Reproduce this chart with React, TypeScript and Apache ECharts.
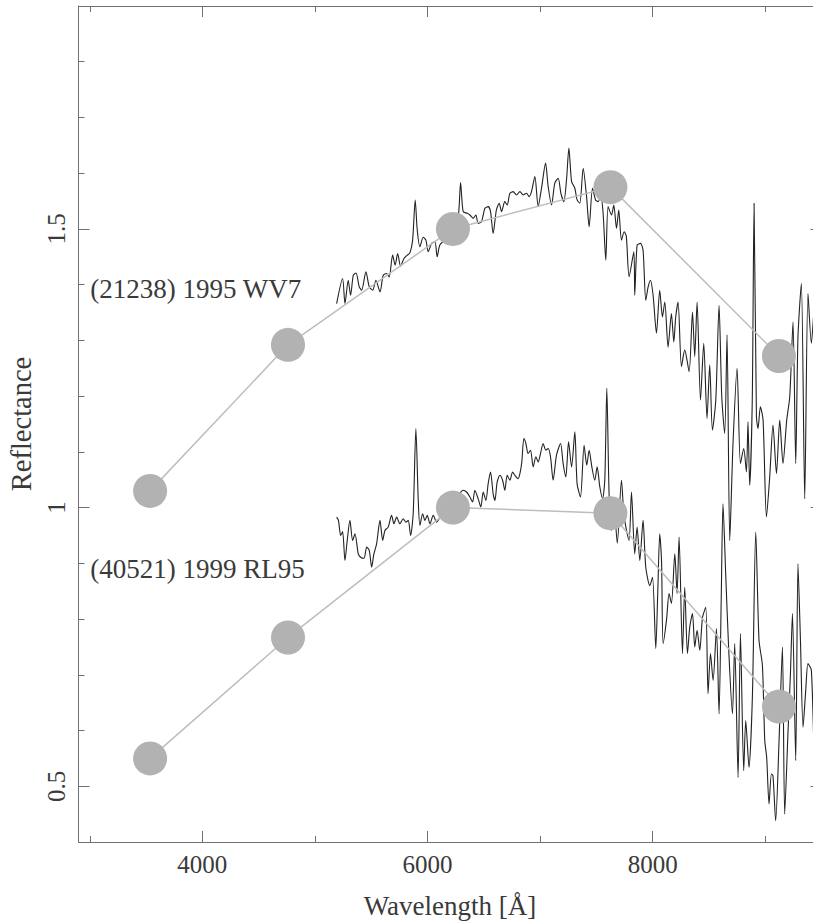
import React, { useEffect, useRef } from "react";
import * as echarts from "echarts";

const FONT = "'Liberation Serif', 'DejaVu Serif', serif";

// Photometric (filter) points
const filterWave = [3536, 4761, 6226, 7625, 9122];
const upperPhot = [1.03, 1.292, 1.5, 1.575, 1.272];
const lowerPhot = [0.55, 0.767, 1.0, 0.99, 0.643];

// Spectrum of (21238) 1995 WV7
const upperWave = [5193,5246,5267,5296,5317,5341,5365,5394,5415,5453,5483,5513,5542,5578,5607,5637,5660,5690,5713,5735,5761,5791,5820,5844,5868,5891,5909,5933,5962,5986,6006,6037,6066,6086,6110,6172,6235,6275,6294,6317,6353,6377,6406,6430,6450,6480,6510,6539,6560,6583,6612,6637,6658,6687,6708,6732,6761,6791,6821,6850,6880,6903,6924,6954,6983,7013,7049,7072,7102,7131,7161,7185,7211,7235,7256,7280,7309,7329,7353,7383,7413,7436,7466,7493,7516,7540,7560,7584,7604,7635,7655,7679,7699,7723,7747,7766,7791,7833,7841,7862,7892,7915,7939,7960,7981,8004,8034,8063,8087,8108,8137,8167,8188,8205,8226,8256,8285,8324,8354,8374,8395,8425,8454,8483,8507,8531,8561,8590,8614,8640,8661,8685,8714,8750,8780,8809,8833,8847,8862,8885,8901,8922,8936,8957,8981,9011,9040,9069,9100,9129,9158,9191,9218,9247,9271,9291,9321,9351,9380,9410,9440,9467];
const upperRefl = [1.366,1.411,1.366,1.408,1.381,1.417,1.421,1.396,1.390,1.423,1.396,1.390,1.408,1.387,1.417,1.420,1.414,1.453,1.435,1.456,1.433,1.447,1.453,1.457,1.480,1.552,1.498,1.468,1.485,1.480,1.459,1.474,1.477,1.450,1.471,1.484,1.498,1.525,1.583,1.531,1.528,1.525,1.519,1.525,1.510,1.513,1.537,1.540,1.531,1.492,1.534,1.546,1.531,1.549,1.543,1.564,1.567,1.561,1.567,1.561,1.564,1.558,1.567,1.594,1.540,1.573,1.618,1.576,1.543,1.582,1.591,1.564,1.549,1.588,1.645,1.585,1.573,1.552,1.546,1.609,1.558,1.504,1.573,1.552,1.549,1.559,1.528,1.444,1.540,1.525,1.543,1.501,1.534,1.480,1.495,1.487,1.414,1.459,1.381,1.471,1.474,1.462,1.372,1.396,1.408,1.381,1.313,1.390,1.342,1.369,1.288,1.348,1.297,1.342,1.369,1.253,1.283,1.244,1.351,1.271,1.369,1.193,1.295,1.160,1.256,1.139,1.193,1.363,1.199,1.133,1.310,0.941,1.115,1.250,1.079,1.106,1.064,1.154,1.040,1.193,1.546,1.163,1.142,1.181,1.157,0.983,1.055,1.148,1.061,1.157,1.079,1.157,1.199,1.333,1.079,1.306,1.402,1.016,1.384,1.295,1.372,1.157];

// Spectrum of (40521) 1999 RL95
const lowerWave = [5193,5209,5229,5246,5267,5287,5311,5335,5356,5385,5406,5436,5460,5483,5504,5524,5548,5578,5602,5622,5651,5681,5702,5726,5755,5784,5808,5829,5850,5873,5897,5918,5933,5957,5977,5998,6022,6051,6081,6137,6199,6261,6317,6347,6377,6401,6421,6450,6474,6495,6519,6539,6560,6583,6599,6619,6643,6667,6687,6708,6732,6756,6776,6805,6821,6838,6856,6874,6894,6915,6939,6963,6983,7004,7027,7051,7072,7093,7116,7146,7182,7205,7229,7253,7280,7309,7329,7359,7391,7415,7436,7460,7486,7507,7531,7555,7575,7593,7613,7633,7655,7686,7723,7744,7768,7791,7812,7841,7862,7886,7915,7939,7975,7999,8028,8046,8063,8079,8093,8123,8146,8167,8197,8217,8235,8265,8285,8309,8330,8354,8374,8395,8419,8443,8472,8492,8514,8537,8567,8590,8609,8625,8649,8676,8709,8729,8759,8780,8809,8827,8856,8886,8916,8945,8975,8996,9013,9034,9055,9069,9093,9123,9153,9173,9203,9224,9242,9271,9291,9313,9336,9360,9380,9410,9440,9467];
const lowerRefl = [0.983,0.977,0.950,0.957,0.905,0.941,0.977,0.941,0.953,0.917,0.911,0.909,0.929,0.923,0.893,0.917,0.935,0.977,0.941,0.959,0.965,0.986,0.971,0.983,0.971,0.980,0.974,0.977,0.950,0.989,1.142,1.013,0.968,0.989,0.977,0.986,0.971,0.986,0.974,0.992,1.004,1.019,1.031,1.028,1.019,1.010,1.031,1.016,1.001,1.028,1.013,1.043,1.064,1.025,1.013,1.046,1.058,1.049,1.031,1.058,1.049,1.064,1.058,1.052,1.061,1.082,1.124,1.115,1.097,1.103,1.073,1.091,1.082,1.097,1.115,1.103,1.106,1.091,1.049,1.094,1.115,1.079,1.055,1.118,1.073,1.136,1.043,1.019,1.112,1.076,1.103,1.073,1.049,1.073,1.037,1.016,1.049,1.214,1.025,0.959,1.013,0.936,1.049,0.989,0.959,0.941,1.028,0.917,0.965,0.905,0.977,0.893,0.860,0.875,0.747,0.851,0.953,0.905,0.756,0.798,0.846,0.828,0.917,0.846,0.947,0.738,0.857,0.738,0.786,0.810,0.750,0.780,0.744,0.803,0.821,0.666,0.738,0.690,0.783,0.630,0.833,1.007,0.881,0.744,0.630,0.756,0.516,0.774,0.528,0.618,0.534,0.660,0.956,0.762,0.717,0.582,0.552,0.468,0.522,0.519,0.438,0.582,0.750,0.450,0.600,0.702,0.810,0.546,0.899,0.762,0.606,0.672,0.720,0.708,0.546,0.654];

// Object labels
const objectNames = ["(21238) 1995 WV7", "(40521) 1999 RL95"];
const labelWave = [3000, 3000];
const labelRefl = [1.392, 0.89];

// Axes
const xMin = 2900;
const xMax = 9500;
const yMin = 0.4;
const yMax = 1.9;
const xMajor = [4000, 6000, 8000];
const xMinor = [3000, 5000, 7000, 9000];
const yMajor = [0.5, 1, 1.5];
const yMinor = [0.6, 0.7, 0.8, 0.9, 1.1, 1.2, 1.3, 1.4, 1.6, 1.7, 1.8];

const AXIS_COLOR = "#707070";
const TEXT_COLOR = "#3a3a3a";

function zip(a: number[], b: number[]) {
  return a.map((v, i) => [v, b[i]]);
}

function xAxisDef(position: string, ticks: number[], len: number, main: boolean) {
  return {
    type: "value",
    position,
    min: xMin,
    max: xMax,
    axisLine: { show: main, lineStyle: { color: AXIS_COLOR, width: 1 } },
    axisTick: {
      show: true,
      inside: true,
      length: len,
      customValues: ticks,
      lineStyle: { color: AXIS_COLOR, width: 1 },
    },
    axisLabel: {
      show: main && position === "bottom",
      customValues: xMajor,
      formatter: (v: number) => String(v),
      fontFamily: FONT,
      fontSize: 25,
      color: TEXT_COLOR,
      margin: 10,
    },
    splitLine: { show: false },
    name: main && position === "bottom" ? "Wavelength [Å]" : "",
    nameLocation: "middle",
    nameGap: 50,
    nameTextStyle: { fontFamily: FONT, fontSize: 27, color: TEXT_COLOR },
  };
}

function yAxisDef(position: string, ticks: number[], len: number, main: boolean) {
  return {
    type: "value",
    position,
    min: yMin,
    max: yMax,
    axisLine: { show: main, lineStyle: { color: AXIS_COLOR, width: 1 } },
    axisTick: {
      show: true,
      inside: true,
      length: len,
      customValues: ticks,
      lineStyle: { color: AXIS_COLOR, width: 1 },
    },
    axisLabel: {
      show: main && position === "left",
      customValues: yMajor,
      formatter: (v: number) => String(v),
      rotate: 90,
      fontFamily: FONT,
      fontSize: 25,
      color: TEXT_COLOR,
      margin: 10,
    },
    splitLine: { show: false },
    name: main && position === "left" ? "Reflectance" : "",
    nameLocation: "middle",
    nameGap: 41,
    nameTextStyle: { fontFamily: FONT, fontSize: 28.5, color: TEXT_COLOR },
  };
}

export default function App() {
  const ref = useRef<HTMLDivElement>(null);
  useEffect(() => {
    const chart = echarts.init(ref.current!, null, { renderer: "svg" });
    const option: any = {
      animation: false,
      backgroundColor: "#ffffff",
      grid: { left: 78.5, top: 6, width: 743, height: 836, containLabel: false, outerBoundsMode: "none" },
      xAxis: [
        xAxisDef("bottom", xMajor, 11, true),
        xAxisDef("bottom", xMinor, 6, false),
        xAxisDef("top", xMajor, 11, true),
        xAxisDef("top", xMinor, 6, false),
      ],
      yAxis: [
        yAxisDef("left", yMajor, 11, true),
        yAxisDef("left", yMinor, 6, false),
        yAxisDef("right", yMajor, 11, true),
        yAxisDef("right", yMinor, 6, false),
      ],
      series: [
        {
          type: "line",
          data: zip(upperWave, upperRefl),
          showSymbol: false,
          symbol: "none",
          smooth: 0.25,
          silent: true,
          lineStyle: { color: "#222222", width: 1.1 },
          z: 2,
        },
        {
          type: "line",
          data: zip(lowerWave, lowerRefl),
          showSymbol: false,
          symbol: "none",
          smooth: 0.25,
          silent: true,
          lineStyle: { color: "#222222", width: 1.1 },
          z: 2,
        },
        {
          type: "line",
          data: zip(filterWave, upperPhot),
          symbol: "circle",
          symbolSize: 34,
          silent: true,
          itemStyle: { color: "#b2b2b2" },
          lineStyle: { color: "#bdbdbd", width: 1.5 },
          z: 3,
        },
        {
          type: "line",
          data: zip(filterWave, lowerPhot),
          symbol: "circle",
          symbolSize: 34,
          silent: true,
          itemStyle: { color: "#b2b2b2" },
          lineStyle: { color: "#bdbdbd", width: 1.5 },
          z: 3,
        },
        {
          type: "scatter",
          silent: true,
          symbolSize: 1,
          itemStyle: { color: "rgba(255,255,255,0)" },
          data: objectNames.map((n, i) => ({ name: n, value: [labelWave[i], labelRefl[i]] })),
          label: {
            show: true,
            position: "right",
            distance: 0,
            formatter: "{b}",
            fontFamily: FONT,
            fontSize: 27,
            color: TEXT_COLOR,
            opacity: 1,
          },
          z: 4,
        },
      ],
    };
    chart.setOption(option);
    return () => chart.dispose();
  }, []);
  return (
    <div
      style={{
        position: "fixed",
        left: 0,
        top: 0,
        width: 813,
        height: 921,
        overflow: "hidden",
        background: "#fff",
      }}
    >
      <div ref={ref} style={{ width: 830, height: 921 }} />
    </div>
  );
}
